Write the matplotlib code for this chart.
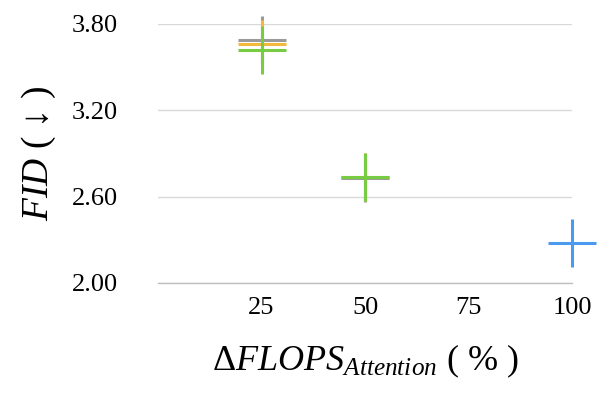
import matplotlib
matplotlib.use("Agg")
import matplotlib.pyplot as plt

plt.rcParams['font.family'] = ['Liberation Serif', 'DejaVu Serif']
plt.rcParams['mathtext.fontset'] = 'custom'
plt.rcParams['mathtext.rm'] = 'Liberation Serif'
plt.rcParams['mathtext.it'] = 'Liberation Serif:italic'

# Data
flops_ticks = [25, 50, 75, 100]
series_x = {
    'gray': [25, 50],
    'gold': [25, 50],
    'green': [25, 50],
    'blue': [100],
}
series_fid = {
    'gray': [3.69, 2.73],
    'gold': [3.66, 2.735],
    'green': [3.62, 2.74],
    'blue': [2.28],
}
colors = {
    'gray': '#9a9a9a',
    'gold': '#f2b93b',
    'green': '#77cc44',
    'blue': '#4a9bf0',
}
y_ticks = [2.00, 2.60, 3.20, 3.80]

fig = plt.figure(figsize=(5.99, 3.96), dpi=100)
ax = fig.add_axes([0.2638, 0.2854, 0.6912, 0.654])

for name in ['gray', 'gold', 'green', 'blue']:
    ax.plot(series_x[name], series_fid[name], linestyle='none', marker='+',
            markersize=35, markeredgewidth=2.2, color=colors[name],
            clip_on=False, zorder=3)

ax.set_xlim(0, 100)
ax.set_ylim(2.0, 3.8)
ax.set_xticks(flops_ticks)
ax.set_xticklabels([str(v) for v in flops_ticks])
ax.set_yticks(y_ticks)
ax.set_yticklabels([f'{v:.2f}' for v in y_ticks])
ax.tick_params(axis='both', length=0, labelsize=19)
ax.tick_params(axis='y', pad=29)
ax.tick_params(axis='x', pad=10)

ax.grid(axis='y', color='#d9d9d9', linewidth=1.0)
ax.set_axisbelow(True)
for s in ['top', 'right', 'left']:
    ax.spines[s].set_visible(False)
ax.spines['bottom'].set_color('#bfbfbf')
ax.spines['bottom'].set_linewidth(1.0)

ax.set_ylabel(r'$\mathit{FID}$ ( ↓ )', fontsize=27, labelpad=10)
ax.set_xlabel(r'$\Delta\mathit{FLOPS}_{\mathit{Attention}}$ ( % )', fontsize=26, labelpad=17)

fig.savefig('out.png', dpi=100)
